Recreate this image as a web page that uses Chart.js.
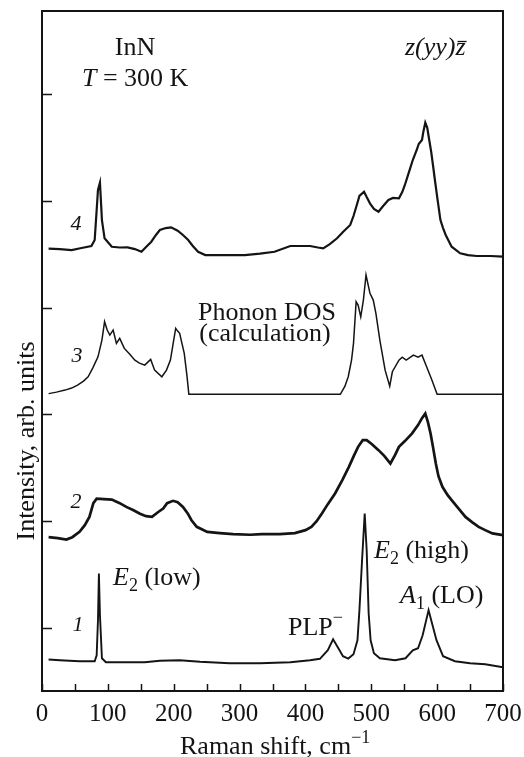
<!DOCTYPE html>
<html>
<head>
<meta charset="utf-8">
<script src="https://cdn.jsdelivr.net/npm/chart.js@4.4.1/dist/chart.umd.min.js"></script>
<style>
  html, body { margin: 0; padding: 0; background: #fff; }
</style>
</head>
<body>
<canvas id="chartRaman" width="524" height="757"></canvas>
<script>
// Espectro 1 (medido)
const shift1 = [10, 27, 57, 80, 83, 85, 86.4, 88, 91, 97, 118, 156, 179, 209, 240, 285, 331, 377, 407, 422,
  434, 442, 450, 457, 465, 473, 479, 482, 486, 490, 493, 496, 499, 504, 513, 536, 552, 563, 571, 578,
  587, 593, 599, 609, 627, 650, 673, 700];
const int1 = [-0.300, -0.307, -0.316, -0.316, -0.26, 0.07, 0.507, 0.115, -0.288, -0.325, -0.325, -0.325, -0.311, -0.307, -0.321, -0.335, -0.335, -0.325, -0.307, -0.293,
  -0.213, -0.110, -0.194, -0.269, -0.291, -0.251, -0.119, 0.163, 0.632, 1.069, 0.725, 0.134, -0.119, -0.241, -0.288, -0.307, -0.288, -0.213, -0.194, -0.072,
  0.163, 0.022, -0.119, -0.269, -0.316, -0.335, -0.344, -0.372];

// Espectro 2
const shift2 = [10, 24, 37, 46, 57, 65, 72, 78, 83, 94, 106, 118, 128, 139, 148, 158, 167, 176, 184, 190,
  199, 206, 214, 221, 227, 235, 251, 270, 290, 316, 334, 361, 384, 400, 409, 417, 425, 434, 445, 456,
  466, 474, 480, 487, 493, 501, 511, 520, 529, 536, 542, 551, 562, 571, 577, 582, 586, 590, 594, 598,
  602, 608, 616, 622, 632, 643, 653, 663, 673, 684, 700];
const int2 = [0.847, 0.838, 0.825, 0.847, 0.897, 0.960, 1.037, 1.166, 1.208, 1.203, 1.199, 1.166, 1.131, 1.100, 1.069, 1.044, 1.037, 1.081, 1.116, 1.166,
  1.188, 1.175, 1.131, 1.072, 1.006, 0.944, 0.897, 0.885, 0.875, 0.870, 0.875, 0.875, 0.885, 0.913, 0.944, 0.997, 1.069, 1.157, 1.257, 1.382,
  1.506, 1.616, 1.694, 1.757, 1.757, 1.719, 1.663, 1.607, 1.538, 1.616, 1.694, 1.748, 1.820, 1.898, 1.963, 2.007, 1.926, 1.820, 1.682, 1.538,
  1.419, 1.319, 1.241, 1.194, 1.119, 1.037, 0.988, 0.944, 0.913, 0.882, 0.866];

// Espectro 3 (DOS de fonones, calculo)
const shift3 = [10, 22, 35, 45, 54, 63, 70, 77, 85, 91, 95, 99, 103, 108, 113, 118, 125, 133, 141, 148,
  156, 165, 171, 182, 189, 195, 200, 203, 206, 209, 216, 220, 223, 453, 460, 465, 470, 473, 477, 480,
  484, 488, 492, 498, 503, 507, 513, 521, 528, 532, 542, 547, 553, 564, 571, 577, 584, 592, 600, 700];
const int3 = [2.193, 2.207, 2.226, 2.245, 2.273, 2.310, 2.351, 2.432, 2.538, 2.695, 2.867, 2.789, 2.742, 2.789, 2.664, 2.711, 2.617, 2.564, 2.507, 2.479,
  2.460, 2.514, 2.413, 2.351, 2.413, 2.507, 2.695, 2.805, 2.779, 2.758, 2.570, 2.367, 2.186, 2.186, 2.263, 2.351, 2.507, 2.664, 3.054, 3.023,
  2.913, 3.070, 3.305, 3.133, 3.070, 2.945, 2.695, 2.413, 2.263, 2.398, 2.507, 2.535, 2.507, 2.554, 2.535, 2.554, 2.444, 2.320, 2.186, 2.186];

// Espectro 4
const shift4 = [10, 27, 45, 60, 75, 80, 83, 85, 88, 89, 91, 95, 106, 118, 130, 141, 151, 158, 166, 173,
  179, 188, 196, 206, 214, 222, 229, 237, 248, 277, 308, 331, 353, 377, 392, 407, 419, 427, 437, 448,
  457, 468, 473, 478, 482, 489, 493, 498, 504, 511, 518, 526, 533, 542, 547, 551, 559, 563, 569, 572,
  577, 579, 582, 585, 588, 591, 594, 597, 600, 605, 609, 613, 622, 635, 647, 660, 681, 700];
const int4 = [3.553, 3.548, 3.539, 3.558, 3.577, 3.633, 3.914, 4.102, 4.170, 4.055, 3.820, 3.649, 3.570, 3.563, 3.564, 3.548, 3.523, 3.567, 3.617, 3.680,
  3.727, 3.745, 3.752, 3.720, 3.680, 3.633, 3.577, 3.523, 3.492, 3.492, 3.492, 3.506, 3.523, 3.577, 3.577, 3.577, 3.563, 3.555, 3.595, 3.649,
  3.708, 3.774, 3.858, 3.961, 4.046, 4.086, 4.036, 3.977, 3.924, 3.898, 3.952, 4.008, 4.027, 4.024, 4.083, 4.149, 4.305, 4.383, 4.477, 4.533,
  4.571, 4.646, 4.733, 4.684, 4.571, 4.458, 4.320, 4.177, 4.039, 3.820, 3.745, 3.680, 3.570, 3.508, 3.492, 3.483, 3.483, 3.478];

const xTickValues = [0, 50, 100, 150, 200, 250, 300, 350, 400, 450, 500, 550, 600, 650, 700];
const yTickValues = [0, 1, 2, 3, 4, 5];

const SERIF = '"Liberation Serif", "Times New Roman", serif';
const INK = '#141414';

const toPoints = (xs, ys) => xs.map((x, i) => ({ x: x, y: ys[i] }));

// dibuja texto con partes en cursiva / subindice / superindice
const rich = (ctx, x, y, parts) => {
    let cx = x;
    parts.forEach(p => {
        const size = p.size || 26;
        ctx.font = (p.italic ? 'italic ' : '') + size + 'px ' + SERIF;
        ctx.fillText(p.t, cx, y + (p.dy || 0));
        cx += ctx.measureText(p.t).width;
    });
    return cx;
};

const marcoYTextos = {
    id: 'marcoYTextos',
    afterDraw(chart) {
        const { ctx, chartArea: a, scales } = chart;
        ctx.save();
        ctx.strokeStyle = INK;
        ctx.fillStyle = INK;

        // marco
        ctx.lineWidth = 2;
        ctx.strokeRect(a.left, a.top, a.right - a.left, a.bottom - a.top);

        // marcas hacia adentro
        ctx.lineWidth = 1.5;
        ctx.beginPath();
        scales.x.ticks.forEach(t => {
            const px = Math.round(scales.x.getPixelForValue(t.value)) + 0.5;
            ctx.moveTo(px, a.bottom);
            ctx.lineTo(px, a.bottom - 7);
        });
        scales.y.ticks.forEach(t => {
            const py = Math.round(scales.y.getPixelForValue(t.value)) + 0.5;
            ctx.moveTo(a.left, py);
            ctx.lineTo(a.left + 10, py);
        });
        ctx.stroke();

        ctx.textBaseline = 'alphabetic';
        ctx.textAlign = 'center';
        ctx.font = '26px ' + SERIF;
        ctx.fillText('InN', 135, 55);
        ctx.fillText('Phonon DOS', 267, 320);
        ctx.fillText('(calculation)', 265, 341);

        // numeros de espectro
        ctx.font = 'italic 22px ' + SERIF;
        ctx.fillText('4', 76, 230);
        ctx.fillText('3', 77, 362);
        ctx.fillText('2', 76, 508);
        ctx.fillText('1', 78, 631);

        ctx.textAlign = 'left';
        rich(ctx, 82, 86, [{ t: 'T', italic: true }, { t: ' = 300 K' }]);

        // z(yy)z con barra
        const x0 = 405;
        const wA = rich(ctx, x0, 55, [{ t: 'z(yy)', italic: true }]);
        const wB = rich(ctx, wA, 55, [{ t: 'z', italic: true }]);
        ctx.lineWidth = 1.3;
        ctx.beginPath();
        ctx.moveTo(wA + 2, 41.5);
        ctx.lineTo(wB + 1, 41.5);
        ctx.stroke();

        rich(ctx, 113, 585, [{ t: 'E', italic: true }, { t: '2', size: 18, dy: 6 }, { t: ' (low)' }]);
        rich(ctx, 374, 558, [{ t: 'E', italic: true }, { t: '2', size: 18, dy: 6 }, { t: ' (high)' }]);
        rich(ctx, 400, 603, [{ t: 'A', italic: true }, { t: '1', size: 18, dy: 6 }, { t: ' (LO)' }]);
        rich(ctx, 288, 635, [{ t: 'PLP' }, { t: '\u2212', size: 18, dy: -12 }]);

        // titulo eje x
        rich(ctx, 180, 754, [{ t: 'Raman shift, cm' }, { t: '\u22121', size: 18, dy: -11 }]);

        // titulo eje y
        ctx.translate(27, 441);
        ctx.rotate(-Math.PI / 2);
        ctx.textAlign = 'center';
        ctx.textBaseline = 'middle';
        ctx.font = '26px ' + SERIF;
        ctx.fillText('Intensity, arb. units', 0, 0);
        ctx.restore();
    }
};

const serie = (xs, ys, w) => ({
    data: toPoints(xs, ys),
    borderColor: INK,
    borderWidth: w,
    pointRadius: 0,
    fill: false,
    tension: 0
});

const ctx = document.getElementById('chartRaman').getContext('2d');

const chartRaman = new Chart(ctx, {
    type: 'line',
    data: {
        datasets: [
            serie(shift1, int1, 1.9),
            serie(shift2, int2, 2.7),
            serie(shift3, int3, 1.5),
            serie(shift4, int4, 2.2)
        ]
    },
    options: {
        responsive: false,
        animation: false,
        devicePixelRatio: 1,
        layout: { padding: { top: 11, right: 21, left: 0, bottom: 0 } },
        plugins: { legend: { display: false }, tooltip: { enabled: false } },
        scales: {
            x: {
                type: 'linear',
                min: 0,
                max: 700,
                afterBuildTicks: s => { s.ticks = xTickValues.map(v => ({ value: v })); },
                afterFit: s => { s.height = 66; s.paddingLeft = 0; s.paddingRight = 0; },
                grid: { display: false, drawTicks: false },
                border: { display: false },
                ticks: {
                    autoSkip: false,
                    maxRotation: 0,
                    padding: 8,
                    color: INK,
                    font: { family: SERIF, size: 25 },
                    callback: v => (v % 100 === 0 ? String(v) : '')
                }
            },
            y: {
                type: 'linear',
                min: -0.595,
                max: 5.78,
                afterBuildTicks: s => { s.ticks = yTickValues.map(v => ({ value: v })); },
                afterFit: s => { s.width = 42; },
                grid: { display: false, drawTicks: false },
                border: { display: false },
                ticks: { display: false }
            }
        }
    },
    plugins: [marcoYTextos]
});
</script>
</body>
</html>
